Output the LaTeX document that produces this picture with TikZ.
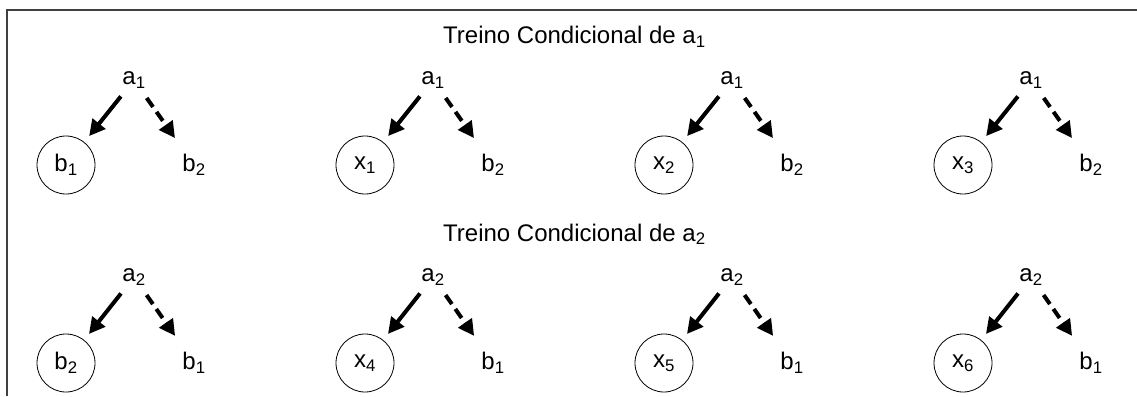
\documentclass[tikz,border=0pt]{standalone}
\usepackage{fontspec}
\setmainfont{Liberation Sans}
\usetikzlibrary{arrows.meta}
\begin{document}
\begin{tikzpicture}[x=1pt,y=-1pt,
    lbl/.style={font=\fontsize{24}{28}\selectfont,inner sep=0pt},
    alvo/.style={lbl,draw,circle,line width=0.8pt,minimum size=58pt},
    seta/.style={line width=4pt,-{Triangle[length=16pt,width=16pt]}},
    tracejada/.style={seta,dash pattern=on 11pt off 6pt}]

                \useasboundingbox (0,0) rectangle (1137,396);
                \draw[line width=2pt,darkgray] (7,396) -- (7,10) -- (1137,10); %枠
                \node[lbl,anchor=base west] (t1) at (443,44) {Treino Condicional de a\textsubscript{1}}; %見出し1
                \node[lbl,anchor=base west] (t2) at (443,241) {Treino Condicional de a\textsubscript{2}}; %見出し2

                % 上の段 (a1)
                \foreach \k/\alvo in {0/b\textsubscript{1},1/x\textsubscript{1},2/x\textsubscript{2},3/x\textsubscript{3}}{
                    \node[lbl] (a1\k) at (134+299*\k,80) {a\textsubscript{1}};
                    \node[alvo] (c1\k) at (66+299*\k,165) {\alvo};
                    \node[lbl] (d1\k) at (194+299*\k,165) {b\textsubscript{2}};
                    \draw[seta,shorten <=21pt,shorten >=37pt] (a1\k.center) -- (c1\k.center);
                    \draw[tracejada,shorten <=22pt,shorten >=33pt] (a1\k.center) -- (d1\k.center);
                }

                % 下の段 (a2)
                \foreach \k/\alvo in {0/b\textsubscript{2},1/x\textsubscript{4},2/x\textsubscript{5},3/x\textsubscript{6}}{
                    \node[lbl] (a2\k) at (134+299*\k,277) {a\textsubscript{2}};
                    \node[alvo] (c2\k) at (66+299*\k,363) {\alvo};
                    \node[lbl] (d2\k) at (194+299*\k,363) {b\textsubscript{1}};
                    \draw[seta,shorten <=21pt,shorten >=37pt] (a2\k.center) -- (c2\k.center);
                    \draw[tracejada,shorten <=22pt,shorten >=33pt] (a2\k.center) -- (d2\k.center);
                }

            \end{tikzpicture}
\end{document}
